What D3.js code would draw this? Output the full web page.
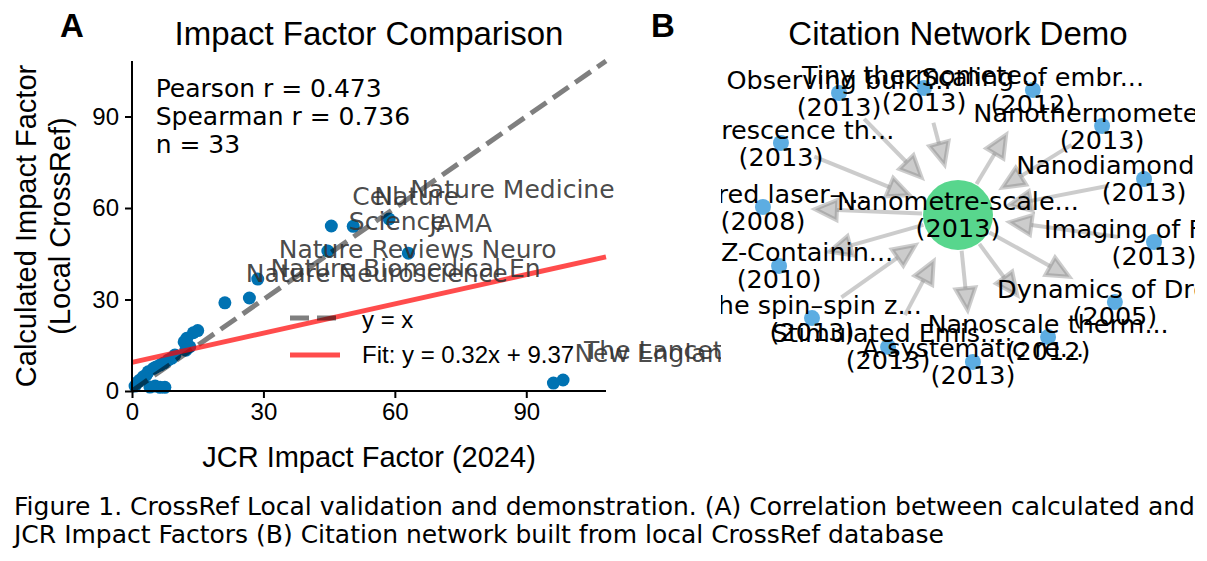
<!DOCTYPE html>
<html lang="en">
<head>
<meta charset="utf-8">
<script src="https://d3js.org/d3.v7.min.js"></script>
<style>
body { margin: 0; background: #fff; }
.sans { font-family: "Liberation Sans", Arial, sans-serif; }
.dv { font-family: "DejaVu Sans", sans-serif; }
</style>
</head>
<body>
<svg id="fig" width="1207" height="561"></svg>
<script>
// ---------- Panel A data ----------
var labeledNames = ["Nature Medicine", "Cell", "Nature", "Science", "JAMA",
  "Nature Reviews Neuro", "Nature Biomedical En", "Nature Neuroscience",
  "The Lancet", "New England Journal "];
var labeledJcr  = [58.7, 45.5, 50.5, 44.7, 63.1, 28.7, 26.8, 21.2, 98.4, 96.2];
var labeledCalc = [56.4, 54.1, 54.0, 45.9, 45.2, 36.7, 30.5, 28.9, 3.6, 2.6];

var otherJcr  = [15.0, 14.0, 12.5, 11.9, 13.2, 12.3, 9.8, 9.1, 8.3, 7.3, 6.4, 5.5,
  4.9, 3.7, 3.2, 2.6, 1.8, 1.4, 0.7, 5.3, 6.4, 7.5, 4.1];
var otherCalc = [19.8, 19.1, 17.3, 16.1, 14.5, 13.4, 11.8, 10.8, 10.2, 9.2, 8.5, 7.9,
  7.4, 6.3, 5.2, 4.7, 3.6, 3.0, 1.6, 1.6, 1.2, 1.2, 1.3];

var statLines = ["Pearson r = 0.473", "Spearman r = 0.736", "n = 33"];
var fitSlope = 0.32, fitIntercept = 9.37;
var ticksA = [0, 30, 60, 90];
var axisMax = 108.2;
var legendLabels = ["y = x", "Fit: y = 0.32x + 9.37"];

// ---------- Panel B data ----------
var nodeTitles = ["Nanometre-scale", "Observing bulk ", "Tiny thermomete", "Scaling of embr",
  "Nanothermometer", "Fluorescence th", "Nanodiamond sen", "infrared laser–",
  "Imaging of Fast", "Two Z-Containin", "Dynamics of Dro", "The spin–spin z",
  "Stimulated Emis", "A systematic re", "Nanoscale therm"];
var nodeYears = [2013, 2013, 2013, 2012, 2013, 2013, 2013, 2008, 2013, 2010, 2005, 2013, 2013, 2013, 2012];
// spring layout positions (layout units)
var nodeX = [0, -0.502, -0.143, 0.316, 0.608, -0.747, 0.785, -0.823, 0.827, -0.755, 0.662, -0.616, -0.295, 0.063, 0.380];
var nodeY = [0.067, 0.806, 0.836, 0.824, 0.606, 0.503, 0.285, 0.115, -0.097, -0.242, -0.461, -0.558, -0.733, -0.824, -0.673];
// [source, target] : source cites target
var edges = [[1,0],[2,0],[0,3],[4,0],[5,0],[6,0],[0,7],[8,0],[0,9],[0,10],[11,0],[12,0],[0,13],[0,14]];

var svg = d3.select("#fig");

// layout boxes
var A = {left: 132, top: 61, width: 474, height: 330};
var B = {left: 721, top: 61, width: 474, height: 330};

// ================= Panel A =================
var x = d3.scaleLinear().domain([0, axisMax]).range([A.left, A.left + A.width]);
var y = d3.scaleLinear().domain([0, axisMax]).range([A.top + A.height, A.top]);

var gA = svg.append("g");

// points
gA.selectAll("circle.other")
  .data(otherJcr)
  .enter()
  .append("circle")
  .attr("class", "other")
  .attr("cx", function(d) { return x(d); })
  .attr("cy", function(d, i) { return y(otherCalc[i]); })
  .attr("r", 6.5)
  .attr("fill", "#0072B2");

gA.selectAll("circle.lab")
  .data(labeledJcr)
  .enter()
  .append("circle")
  .attr("class", "lab")
  .attr("cx", function(d) { return x(d); })
  .attr("cy", function(d, i) { return y(labeledCalc[i]); })
  .attr("r", 6.5)
  .attr("fill", "#0072B2");

// y = x reference line
gA.append("line")
  .attr("x1", x(0)).attr("y1", y(0))
  .attr("x2", x(axisMax)).attr("y2", y(axisMax))
  .attr("stroke", "black").attr("stroke-opacity", 0.5)
  .attr("stroke-width", 5).attr("stroke-dasharray", "19,8");

// fit line
gA.append("line")
  .attr("x1", x(0)).attr("y1", y(fitIntercept))
  .attr("x2", x(axisMax)).attr("y2", y(fitSlope * axisMax + fitIntercept))
  .attr("stroke", "red").attr("stroke-opacity", 0.7)
  .attr("stroke-width", 5);

// axes
var xAxis = d3.axisBottom(x).tickValues(ticksA).tickSize(7).tickPadding(5);
var yAxis = d3.axisLeft(y).tickValues(ticksA).tickSize(7).tickPadding(6);

gA.append("g")
  .attr("transform", "translate(0," + (A.top + A.height) + ")")
  .call(xAxis)
  .call(function(g) {
    g.select(".domain").attr("d", "M" + A.left + ",0H" + (A.left + A.width));
  });
gA.append("g")
  .attr("transform", "translate(" + A.left + ",0)")
  .call(yAxis)
  .call(function(g) {
    g.select(".domain").attr("d", "M0," + A.top + "V" + (A.top + A.height));
  });

gA.selectAll(".domain, .tick line").attr("stroke", "black").attr("stroke-width", 2);
gA.selectAll(".tick text")
  .style("font-family", "'Liberation Sans', Arial, sans-serif")
  .style("font-size", "24px")
  .attr("fill", "black");

// axis labels
gA.append("text")
  .attr("class", "sans")
  .attr("x", A.left + A.width / 2).attr("y", 467)
  .attr("text-anchor", "middle")
  .style("font-size", "29px")
  .text("JCR Impact Factor (2024)");

var yl = gA.append("text")
  .attr("class", "sans")
  .attr("transform", "translate(36," + (A.top + A.height / 2) + ") rotate(-90)")
  .attr("text-anchor", "middle")
  .style("font-size", "29px");
yl.append("tspan").attr("x", 0).attr("y", 0).text("Calculated Impact Factor");
yl.append("tspan").attr("x", 0).attr("y", 34).text("(Local CrossRef)");

// title + panel letter
gA.append("text")
  .attr("class", "sans")
  .attr("x", A.left + A.width / 2).attr("y", 45)
  .attr("text-anchor", "middle")
  .style("font-size", "33px")
  .text("Impact Factor Comparison");
gA.append("text")
  .attr("class", "sans")
  .attr("x", 60).attr("y", 37)
  .style("font-size", "33px").style("font-weight", "bold")
  .text("A");

// stats box
gA.selectAll("text.stat")
  .data(statLines)
  .enter()
  .append("text")
  .attr("class", "dv stat")
  .attr("x", A.left + 0.05 * A.width)
  .attr("y", function(d, i) { return 97 + i * 28; })
  .style("font-size", "25px")
  .text(function(d) { return d; });

// journal labels, offset 10pt up/right of the point
gA.selectAll("text.jl")
  .data(labeledNames)
  .enter()
  .append("text")
  .attr("class", "dv jl")
  .attr("x", function(d, i) { return x(labeledJcr[i]) + 21; })
  .attr("y", function(d, i) { return y(labeledCalc[i]) - 21; })
  .attr("fill", "#333")
  .attr("fill-opacity", 0.9)
  .style("font-size", "25px")
  .style("white-space", "pre")
  .text(function(d) { return d; });

// legend
var leg = gA.append("g");
leg.append("line")
  .attr("x1", 290).attr("x2", 340).attr("y1", 318).attr("y2", 318)
  .attr("stroke", "black").attr("stroke-opacity", 0.5)
  .attr("stroke-width", 5).attr("stroke-dasharray", "19,8");
leg.append("line")
  .attr("x1", 290).attr("x2", 340).attr("y1", 355).attr("y2", 355)
  .attr("stroke", "red").attr("stroke-opacity", 0.7)
  .attr("stroke-width", 5);
leg.selectAll("text")
  .data(legendLabels)
  .enter()
  .append("text")
  .attr("class", "sans")
  .attr("x", 362)
  .attr("y", function(d, i) { return 328 + i * 35; })
  .style("font-size", "24px")
  .text(function(d) { return d; });

// ================= Panel B =================
var hx = d3.scaleLinear().domain([-1, 1]).range([B.left, B.left + B.width]);
var hy = d3.scaleLinear().domain([-1, 1]).range([B.top + B.height, B.top]);

svg.append("defs").append("clipPath").attr("id", "clipB")
  .append("rect")
  .attr("x", B.left).attr("y", B.top)
  .attr("width", B.width).attr("height", B.height);

// axes background hides overflow from panel A
svg.append("rect")
  .attr("x", B.left).attr("y", B.top)
  .attr("width", B.width).attr("height", B.height)
  .attr("fill", "white");

var gB = svg.append("g").attr("clip-path", "url(#clipB)");

var shrinkA = 36, shrinkB = 52, headLen = 22, headHalf = 10;

edges.forEach(function(e) {
  var x1 = hx(nodeX[e[0]]), y1 = hy(nodeY[e[0]]);
  var x2 = hx(nodeX[e[1]]), y2 = hy(nodeY[e[1]]);
  var dx = x2 - x1, dy = y2 - y1, L = Math.sqrt(dx * dx + dy * dy);
  var ux = dx / L, uy = dy / L;
  var sx = x1 + ux * shrinkA, sy = y1 + uy * shrinkA;
  var tx = x2 - ux * shrinkB, ty = y2 - uy * shrinkB;
  var bx = tx - ux * headLen, by = ty - uy * headLen;

  gB.append("line")
    .attr("x1", sx).attr("y1", sy).attr("x2", bx).attr("y2", by)
    .attr("stroke", "gray").attr("stroke-opacity", 0.4)
    .attr("stroke-width", 4);

  var pts = [[tx, ty], [bx - uy * headHalf, by + ux * headHalf], [bx + uy * headHalf, by - ux * headHalf]];
  gB.append("polygon")
    .attr("points", pts.map(function(p) { return p.join(","); }).join(" "))
    .attr("fill", "gray").attr("fill-opacity", 0.4)
    .attr("stroke", "gray").attr("stroke-opacity", 0.4)
    .attr("stroke-width", 4);
});

gB.selectAll("circle")
  .data(nodeTitles)
  .enter()
  .append("circle")
  .attr("cx", function(d, i) { return hx(nodeX[i]); })
  .attr("cy", function(d, i) { return hy(nodeY[i]); })
  .attr("r", function(d, i) { return i == 0 ? 35 : 8; })
  .attr("fill", function(d, i) { return i == 0 ? "#2ecc71" : "#3498db"; })
  .attr("fill-opacity", 0.8);

var lab = gB.selectAll("text.nl")
  .data(nodeTitles)
  .enter()
  .append("text")
  .attr("class", "dv nl")
  .attr("text-anchor", "middle")
  .style("font-size", "25.5px")
  .style("white-space", "pre");
lab.append("tspan")
  .attr("x", function(d, i) { return hx(nodeX[i]); })
  .attr("y", function(d, i) { return hy(nodeY[i]) - 13.5 + 9; })
  .text(function(d) { return d + "..."; });
lab.append("tspan")
  .attr("x", function(d, i) { return hx(nodeX[i]); })
  .attr("y", function(d, i) { return hy(nodeY[i]) + 13.5 + 9; })
  .text(function(d, i) { return "(" + nodeYears[i] + ")"; });

svg.append("text")
  .attr("class", "sans")
  .attr("x", B.left + B.width / 2).attr("y", 45)
  .attr("text-anchor", "middle")
  .style("font-size", "33px")
  .text("Citation Network Demo");
svg.append("text")
  .attr("class", "sans")
  .attr("x", 651).attr("y", 37)
  .style("font-size", "33px").style("font-weight", "bold")
  .text("B");

// ================= Caption =================
var caption = ["Figure 1. CrossRef Local validation and demonstration. (A) Correlation between calculated and",
  "JCR Impact Factors (B) Citation network built from local CrossRef database"];
svg.selectAll("text.cap")
  .data(caption)
  .enter()
  .append("text")
  .attr("class", "dv cap")
  .attr("x", 14)
  .attr("y", function(d, i) { return 515 + i * 27.5; })
  .style("font-size", "25px")
  .text(function(d) { return d; });
</script>
</body>
</html>
